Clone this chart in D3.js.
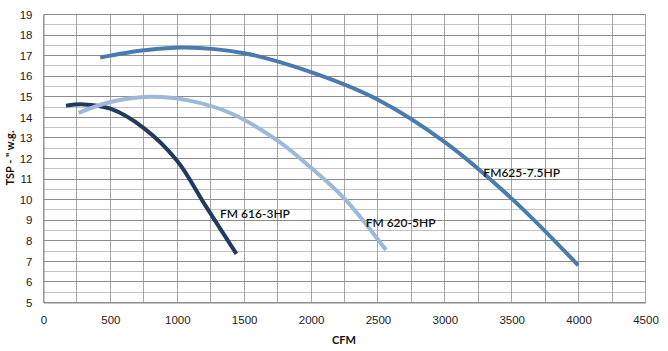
<!DOCTYPE html>
<html>
<head>
<meta charset="utf-8">
<script src="https://cdn.jsdelivr.net/npm/d3@7"></script>
<style>
  html, body { margin: 0; padding: 0; background: #fff; }
  svg { display: block; font-family: Lato, "Open Sans", sans-serif; }
</style>
</head>
<body>
<svg id="chart" width="668" height="351"></svg>
<script>
// Fan curves: [CFM, TSP]
const fm616 = [[168, 14.57], [300, 14.63], [500, 14.42], [750, 13.48], [1000, 11.88], [1200, 9.82], [1442, 7.36]]
const fm620 = [[262, 14.22], [500, 14.75], [800, 15.0], [1100, 14.8], [1400, 14.2], [1750, 12.87], [2000, 11.55], [2250, 10.05], [2560, 7.55]]
const fm625 = [[424, 16.91], [750, 17.26], [1050, 17.4], [1500, 17.12], [2000, 16.2], [2500, 14.86], [3000, 12.8], [3500, 10.05], [3997, 6.81]]

const xTicks = [0, 500, 1000, 1500, 2000, 2500, 3000, 3500, 4000, 4500]
const yTicks = [5, 6, 7, 8, 9, 10, 11, 12, 13, 14, 15, 16, 17, 18, 19]

const series = [
  {name: "FM 616-3HP", pts: fm616, color: "#223a5e", lx: 1320, ly: 9.1},
  {name: "FM 620-5HP", pts: fm620, color: "#9db8d9", lx: 2408, ly: 8.65},
  {name: "FM625-7.5HP", pts: fm625, color: "#4a7bb0", lx: 3288, ly: 11.1},
]

const svg = d3.select("#chart")
const m = {top: 14, right: 23, bottom: 49, left: 43}
const W = 668, H = 351
const iw = W - m.left - m.right
const ih = H - m.top - m.bottom

const x = d3.scaleLinear().domain([0, 4500]).range([0, iw])
const y = d3.scaleLinear().domain([5, 19]).range([ih, 0])

const g = svg.append("g").attr("transform", `translate(${m.left + 0.5},${m.top + 0.5})`)

// minor horizontal grid every 0.5
g.append("g")
  .selectAll("line")
  .data(d3.range(5.5, 19, 1))
  .join("line")
  .attr("x1", 0).attr("x2", iw)
  .attr("y1", (d) => Math.round(y(d))).attr("y2", (d) => Math.round(y(d)))
  .attr("stroke", "#c4c4c4")

// vertical grid every 250
g.append("g")
  .selectAll("line")
  .data(d3.range(0, 4501, 250))
  .join("line")
  .attr("x1", (d) => Math.round(x(d))).attr("x2", (d) => Math.round(x(d)))
  .attr("y1", 0).attr("y2", ih)
  .attr("stroke", "#a6a6a6")

// major horizontal grid
g.append("g")
  .selectAll("line")
  .data(yTicks)
  .join("line")
  .attr("x1", 0).attr("x2", iw)
  .attr("y1", (d) => Math.round(y(d))).attr("y2", (d) => Math.round(y(d)))
  .attr("stroke", "#8c8c8c")

// axes (labels only)
const xa = g.append("g")
  .attr("transform", `translate(0,${ih})`)
  .call(d3.axisBottom(x).tickValues(xTicks).tickFormat(d3.format("d")).tickSize(0).tickPadding(13))
xa.select(".domain").attr("stroke", "#8c8c8c")
xa.selectAll("text").attr("font-size", 11.5).attr("fill", "#222")

const ya = g.append("g")
  .call(d3.axisLeft(y).tickValues(yTicks).tickFormat(d3.format("d")).tickSize(0).tickPadding(11))
ya.select(".domain").attr("stroke", "#8c8c8c")
ya.selectAll("text").attr("font-size", 11.5).attr("fill", "#222")

const line = d3.line()
  .x((d) => x(d[0]))
  .y((d) => y(d[1]))
  .curve(d3.curveCatmullRom.alpha(0.5))

g.append("g")
  .selectAll("path")
  .data(series)
  .join("path")
  .attr("fill", "none")
  .attr("stroke", (d) => d.color)
  .attr("stroke-width", 4)
  .attr("d", (d) => line(d.pts))

g.append("g")
  .selectAll("text")
  .data(series)
  .join("text")
  .attr("x", (d) => x(d.lx))
  .attr("y", (d) => y(d.ly))
  .attr("font-size", 12)
  .attr("font-weight", 600)
  .attr("fill", "#111")
  .text((d) => d.name)

svg.append("text")
  .attr("x", m.left + iw / 2)
  .attr("y", 344)
  .attr("text-anchor", "middle")
  .attr("font-size", 11)
  .attr("font-weight", "bold")
  .attr("fill", "#111")
  .text("CFM")

svg.append("text")
  .attr("transform", `translate(14,${m.top + ih / 2}) rotate(-90)`)
  .attr("text-anchor", "middle")
  .attr("font-size", 11)
  .attr("font-weight", "bold")
  .attr("fill", "#111")
  .text("TSP - \" w.g.")
</script>
</body>
</html>
